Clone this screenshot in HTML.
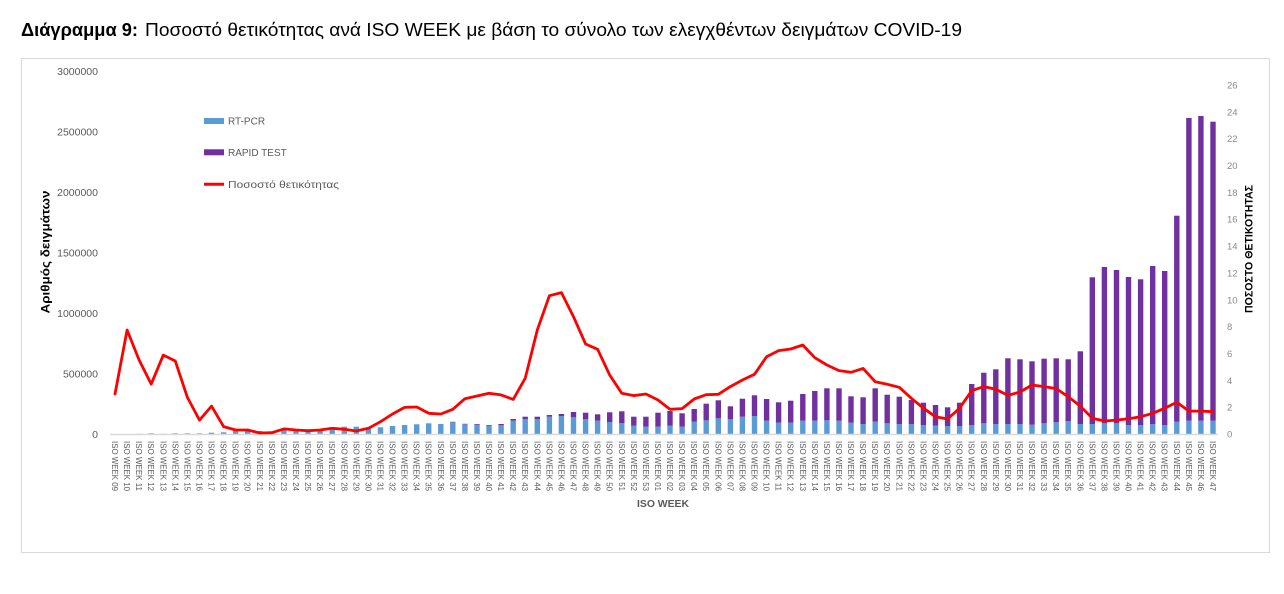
<!DOCTYPE html>
<html><head><meta charset="utf-8"><style>
html,body{margin:0;padding:0;background:#fff;}
svg{display:block;font-family:"Liberation Sans",sans-serif;}
.xl{font-size:8.5px;fill:#595959;}
.yl{font-size:10.5px;fill:#595959;}
.yr{font-size:9.5px;fill:#8a8a8a;}
.lg{font-size:10px;fill:#595959;}
.b{fill:#5B9BD5;}
.p{fill:#7030A0;}
</style></head><body>
<svg width="1284" height="594" viewBox="0 0 1284 594" xmlns="http://www.w3.org/2000/svg">
<rect x="0" y="0" width="1284" height="594" fill="#fff"/>
<text x="21" y="36" font-size="18" font-weight="bold" fill="#000" textLength="117" lengthAdjust="spacingAndGlyphs">Διάγραμμα 9:</text>
<text x="145" y="36" font-size="18" fill="#000" textLength="817" lengthAdjust="spacingAndGlyphs">Ποσοστό θετικότητας ανά ISO WEEK με βάση το σύνολο των ελεγχθέντων δειγμάτων COVID-19</text>
<rect x="21.5" y="58.5" width="1248" height="494" fill="none" stroke="#d9d9d9" stroke-width="1"/>

<!-- left axis labels -->
<g class="yl" text-anchor="end">
<text x="98" y="74.8">3000000</text>
<text x="98" y="135.4">2500000</text>
<text x="98" y="196">2000000</text>
<text x="98" y="256.5">1500000</text>
<text x="98" y="317.1">1000000</text>
<text x="98" y="377.7">500000</text>
<text x="98" y="438.1">0</text>
</g>
<!-- right axis labels -->
<g class="yr">
<text x="1227" y="437.6">0</text>
<text x="1227" y="410.7">2</text>
<text x="1227" y="383.9">4</text>
<text x="1227" y="357">6</text>
<text x="1227" y="330.2">8</text>
<text x="1227" y="303.3">10</text>
<text x="1227" y="276.4">12</text>
<text x="1227" y="249.6">14</text>
<text x="1227" y="222.7">16</text>
<text x="1227" y="195.9">18</text>
<text x="1227" y="169">20</text>
<text x="1227" y="142.1">22</text>
<text x="1227" y="115.3">24</text>
<text x="1227" y="88.4">26</text>
</g>
<text transform="translate(49.5,252) rotate(-90)" text-anchor="middle" font-size="12" font-weight="bold" fill="#000" textLength="123" lengthAdjust="spacingAndGlyphs">Αριθμός δειγμάτων</text>
<text transform="translate(1252.5,249) rotate(-90)" text-anchor="middle" font-size="11" font-weight="bold" fill="#000" textLength="128" lengthAdjust="spacingAndGlyphs">ΠΟΣΟΣΤΟ ΘΕΤΙΚΟΤΗΤΑΣ</text>
<text x="663" y="507" text-anchor="middle" font-size="10.5" font-weight="bold" fill="#595959" textLength="52" lengthAdjust="spacingAndGlyphs">ISO WEEK</text>

<!-- legend -->
<rect x="204" y="118" width="20" height="6" class="b"/>
<text x="228" y="124.5" class="lg">RT-PCR</text>
<rect x="204" y="149.3" width="20" height="6" class="p"/>
<text x="228" y="155.8" class="lg">RAPID TEST</text>
<line x1="204" y1="184.3" x2="224" y2="184.3" stroke="#ff0000" stroke-width="3"/>
<text x="228" y="188" class="lg" textLength="111" lengthAdjust="spacingAndGlyphs">Ποσοστό θετικότητας</text>

<!-- bars -->
<g>
<rect class="b" x="136.4" y="433.8" width="5.4" height="0.5"/>
<rect class="b" x="148.5" y="433.3" width="5.4" height="1"/>
<rect class="b" x="160.6" y="433.8" width="5.4" height="0.5"/>
<rect class="b" x="172.6" y="433.3" width="5.4" height="1"/>
<rect class="b" x="184.7" y="433.3" width="5.4" height="1"/>
<rect class="b" x="196.8" y="433.3" width="5.4" height="1"/>
<rect class="b" x="208.8" y="432.7" width="5.4" height="1.6"/>
<rect class="b" x="220.9" y="432.3" width="5.4" height="2"/>
<rect class="b" x="233.0" y="430" width="5.4" height="4.3"/>
<rect class="b" x="245.0" y="430" width="5.4" height="4.3"/>
<rect class="b" x="257.1" y="431" width="5.4" height="3.3"/>
<rect class="b" x="269.2" y="431.7" width="5.4" height="2.6"/>
<rect class="b" x="281.2" y="429" width="5.4" height="5.3"/>
<rect class="b" x="293.3" y="430" width="5.4" height="4.3"/>
<rect class="b" x="305.4" y="430" width="5.4" height="4.3"/>
<rect class="b" x="317.4" y="429.3" width="5.4" height="5"/>
<rect class="b" x="329.5" y="429" width="5.4" height="5.3"/>
<rect class="b" x="341.6" y="426.7" width="5.4" height="7.6"/>
<rect class="b" x="353.6" y="426.7" width="5.4" height="7.6"/>
<rect class="b" x="365.7" y="428.3" width="5.4" height="6"/>
<rect class="b" x="377.8" y="427.3" width="5.4" height="7"/>
<rect class="b" x="389.8" y="426" width="5.4" height="8.3"/>
<rect class="b" x="401.9" y="425" width="5.4" height="9.3"/>
<rect class="b" x="414.0" y="424.3" width="5.4" height="10"/>
<rect class="b" x="426.0" y="423.3" width="5.4" height="11"/>
<rect class="b" x="438.1" y="424" width="5.4" height="10.3"/>
<rect class="b" x="450.1" y="422.3" width="5.4" height="12"/><rect class="p" x="450.1" y="421.8" width="5.4" height="0.5"/>
<rect class="b" x="462.2" y="424.3" width="5.4" height="10"/><rect class="p" x="462.2" y="423.8" width="5.4" height="0.5"/>
<rect class="b" x="474.3" y="424.7" width="5.4" height="9.6"/><rect class="p" x="474.3" y="424" width="5.4" height="0.7"/>
<rect class="b" x="486.3" y="425.7" width="5.4" height="8.6"/><rect class="p" x="486.3" y="425" width="5.4" height="0.7"/>
<rect class="b" x="498.4" y="425.3" width="5.4" height="9"/><rect class="p" x="498.4" y="424" width="5.4" height="1.3"/>
<rect class="b" x="510.5" y="420.7" width="5.4" height="13.6"/><rect class="p" x="510.5" y="419" width="5.4" height="1.7"/>
<rect class="b" x="522.5" y="419" width="5.4" height="15.3"/><rect class="p" x="522.5" y="416.7" width="5.4" height="2.3"/>
<rect class="b" x="534.6" y="419.3" width="5.4" height="15"/><rect class="p" x="534.6" y="416.7" width="5.4" height="2.6"/>
<rect class="b" x="546.7" y="416.7" width="5.4" height="17.6"/><rect class="p" x="546.7" y="415" width="5.4" height="1.7"/>
<rect class="b" x="558.7" y="416" width="5.4" height="18.3"/><rect class="p" x="558.7" y="414" width="5.4" height="2"/>
<rect class="b" x="570.8" y="417.3" width="5.4" height="17"/><rect class="p" x="570.8" y="412" width="5.4" height="5.3"/>
<rect class="b" x="582.9" y="419.3" width="5.4" height="15"/><rect class="p" x="582.9" y="412.7" width="5.4" height="6.6"/>
<rect class="b" x="594.9" y="420.7" width="5.4" height="13.6"/><rect class="p" x="594.9" y="414.3" width="5.4" height="6.4"/>
<rect class="b" x="607.0" y="422" width="5.4" height="12.3"/><rect class="p" x="607.0" y="412.3" width="5.4" height="9.7"/>
<rect class="b" x="619.1" y="423" width="5.4" height="11.3"/><rect class="p" x="619.1" y="411.3" width="5.4" height="11.7"/>
<rect class="b" x="631.1" y="425.7" width="5.4" height="8.6"/><rect class="p" x="631.1" y="416.7" width="5.4" height="9"/>
<rect class="b" x="643.2" y="426.7" width="5.4" height="7.6"/><rect class="p" x="643.2" y="416.7" width="5.4" height="10"/>
<rect class="b" x="655.3" y="426.7" width="5.4" height="7.6"/><rect class="p" x="655.3" y="412.7" width="5.4" height="14"/>
<rect class="b" x="667.3" y="425.7" width="5.4" height="8.6"/><rect class="p" x="667.3" y="411" width="5.4" height="14.7"/>
<rect class="b" x="679.4" y="426.7" width="5.4" height="7.6"/><rect class="p" x="679.4" y="413.3" width="5.4" height="13.4"/>
<rect class="b" x="691.5" y="421.7" width="5.4" height="12.6"/><rect class="p" x="691.5" y="409" width="5.4" height="12.7"/>
<rect class="b" x="703.5" y="420.3" width="5.4" height="14"/><rect class="p" x="703.5" y="403.7" width="5.4" height="16.6"/>
<rect class="b" x="715.6" y="418.3" width="5.4" height="16"/><rect class="p" x="715.6" y="400.3" width="5.4" height="18"/>
<rect class="b" x="727.7" y="419.3" width="5.4" height="15"/><rect class="p" x="727.7" y="406.3" width="5.4" height="13"/>
<rect class="b" x="739.7" y="416.7" width="5.4" height="17.6"/><rect class="p" x="739.7" y="398.7" width="5.4" height="18"/>
<rect class="b" x="751.8" y="416" width="5.4" height="18.3"/><rect class="p" x="751.8" y="395.3" width="5.4" height="20.7"/>
<rect class="b" x="763.9" y="420.7" width="5.4" height="13.6"/><rect class="p" x="763.9" y="399" width="5.4" height="21.7"/>
<rect class="b" x="775.9" y="422.7" width="5.4" height="11.6"/><rect class="p" x="775.9" y="402.3" width="5.4" height="20.4"/>
<rect class="b" x="788.0" y="422.7" width="5.4" height="11.6"/><rect class="p" x="788.0" y="400.7" width="5.4" height="22"/>
<rect class="b" x="800.1" y="420.7" width="5.4" height="13.6"/><rect class="p" x="800.1" y="394" width="5.4" height="26.7"/>
<rect class="b" x="812.1" y="420.7" width="5.4" height="13.6"/><rect class="p" x="812.1" y="391" width="5.4" height="29.7"/>
<rect class="b" x="824.2" y="420.3" width="5.4" height="14"/><rect class="p" x="824.2" y="388.3" width="5.4" height="32"/>
<rect class="b" x="836.3" y="420.7" width="5.4" height="13.6"/><rect class="p" x="836.3" y="388.3" width="5.4" height="32.4"/>
<rect class="b" x="848.3" y="422.7" width="5.4" height="11.6"/><rect class="p" x="848.3" y="396.3" width="5.4" height="26.4"/>
<rect class="b" x="860.4" y="424" width="5.4" height="10.3"/><rect class="p" x="860.4" y="397.3" width="5.4" height="26.7"/>
<rect class="b" x="872.5" y="421.7" width="5.4" height="12.6"/><rect class="p" x="872.5" y="388.3" width="5.4" height="33.4"/>
<rect class="b" x="884.5" y="423.3" width="5.4" height="11"/><rect class="p" x="884.5" y="394.7" width="5.4" height="28.6"/>
<rect class="b" x="896.6" y="424" width="5.4" height="10.3"/><rect class="p" x="896.6" y="396.7" width="5.4" height="27.3"/>
<rect class="b" x="908.7" y="424" width="5.4" height="10.3"/><rect class="p" x="908.7" y="400" width="5.4" height="24"/>
<rect class="b" x="920.7" y="425" width="5.4" height="9.3"/><rect class="p" x="920.7" y="402.7" width="5.4" height="22.3"/>
<rect class="b" x="932.8" y="425.7" width="5.4" height="8.6"/><rect class="p" x="932.8" y="405" width="5.4" height="20.7"/>
<rect class="b" x="944.9" y="426" width="5.4" height="8.3"/><rect class="p" x="944.9" y="407.3" width="5.4" height="18.7"/>
<rect class="b" x="956.9" y="426" width="5.4" height="8.3"/><rect class="p" x="956.9" y="402.7" width="5.4" height="23.3"/>
<rect class="b" x="969.0" y="425" width="5.4" height="9.3"/><rect class="p" x="969.0" y="384" width="5.4" height="41"/>
<rect class="b" x="981.1" y="423.3" width="5.4" height="11"/><rect class="p" x="981.1" y="372.7" width="5.4" height="50.6"/>
<rect class="b" x="993.1" y="424" width="5.4" height="10.3"/><rect class="p" x="993.1" y="369.3" width="5.4" height="54.7"/>
<rect class="b" x="1005.2" y="424" width="5.4" height="10.3"/><rect class="p" x="1005.2" y="358.3" width="5.4" height="65.7"/>
<rect class="b" x="1017.3" y="424" width="5.4" height="10.3"/><rect class="p" x="1017.3" y="359.3" width="5.4" height="64.7"/>
<rect class="b" x="1029.3" y="424.7" width="5.4" height="9.6"/><rect class="p" x="1029.3" y="361.3" width="5.4" height="63.4"/>
<rect class="b" x="1041.4" y="423.3" width="5.4" height="11"/><rect class="p" x="1041.4" y="358.7" width="5.4" height="64.6"/>
<rect class="b" x="1053.5" y="422.3" width="5.4" height="12"/><rect class="p" x="1053.5" y="358.3" width="5.4" height="64"/>
<rect class="b" x="1065.5" y="421" width="5.4" height="13.3"/><rect class="p" x="1065.5" y="359.3" width="5.4" height="61.7"/>
<rect class="b" x="1077.6" y="424" width="5.4" height="10.3"/><rect class="p" x="1077.6" y="351.3" width="5.4" height="72.7"/>
<rect class="b" x="1089.6" y="424" width="5.4" height="10.3"/><rect class="p" x="1089.6" y="277.3" width="5.4" height="146.7"/>
<rect class="b" x="1101.7" y="423.3" width="5.4" height="11"/><rect class="p" x="1101.7" y="267" width="5.4" height="156.3"/>
<rect class="b" x="1113.8" y="423.3" width="5.4" height="11"/><rect class="p" x="1113.8" y="270" width="5.4" height="153.3"/>
<rect class="b" x="1125.8" y="425" width="5.4" height="9.3"/><rect class="p" x="1125.8" y="277" width="5.4" height="148"/>
<rect class="b" x="1137.9" y="425" width="5.4" height="9.3"/><rect class="p" x="1137.9" y="279.3" width="5.4" height="145.7"/>
<rect class="b" x="1150.0" y="424" width="5.4" height="10.3"/><rect class="p" x="1150.0" y="266" width="5.4" height="158"/>
<rect class="b" x="1162.0" y="425" width="5.4" height="9.3"/><rect class="p" x="1162.0" y="271" width="5.4" height="154"/>
<rect class="b" x="1174.1" y="421.7" width="5.4" height="12.6"/><rect class="p" x="1174.1" y="215.7" width="5.4" height="206"/>
<rect class="b" x="1186.2" y="420.7" width="5.4" height="13.6"/><rect class="p" x="1186.2" y="118" width="5.4" height="302.7"/>
<rect class="b" x="1198.2" y="420.7" width="5.4" height="13.6"/><rect class="p" x="1198.2" y="116" width="5.4" height="304.7"/>
<rect class="b" x="1210.3" y="420.7" width="5.4" height="13.6"/><rect class="p" x="1210.3" y="121.7" width="5.4" height="299"/>
</g>

<line x1="110" y1="434.5" x2="1218" y2="434.5" stroke="#d9d9d9" stroke-width="1.5"/>

<!-- positivity line -->
<polyline fill="none" stroke="#ff0000" stroke-width="2.8" stroke-linejoin="round" stroke-linecap="round" points="115.0,394.0 127.1,330.0 139.1,360.0 151.2,384.1 163.3,355.1 175.3,361.0 187.4,397.4 199.5,420.1 211.5,406.1 223.6,426.6 235.7,430.0 247.7,430.0 259.8,433.0 271.9,432.7 283.9,428.9 296.0,430.0 308.1,430.7 320.1,430.0 332.2,428.3 344.3,429.3 356.3,431.0 368.4,428.3 380.5,421.7 392.5,414.0 404.6,407.4 416.7,407.0 428.7,413.3 440.8,414.0 452.8,409.3 464.9,398.7 477.0,396.0 489.0,393.3 501.1,394.9 513.2,399.4 525.2,378.3 537.3,330.0 549.4,295.7 561.4,292.6 573.5,316.7 585.6,344.0 597.6,349.3 609.7,375.0 621.8,393.3 633.8,395.6 645.9,394.0 658.0,400.0 670.0,409.3 682.1,408.6 694.2,399.0 706.2,394.7 718.3,394.3 730.4,386.6 742.4,380.0 754.5,374.3 766.6,356.7 778.6,350.6 790.7,349.0 802.8,345.0 814.8,357.7 826.9,365.0 839.0,370.6 851.0,372.3 863.1,368.4 875.2,381.7 887.2,384.3 899.3,387.3 911.4,398.3 923.4,408.2 935.5,416.7 947.6,419.0 959.6,408.2 971.7,390.7 983.8,386.6 995.8,389.3 1007.9,395.4 1020.0,392.0 1032.0,385.0 1044.1,386.6 1056.2,388.6 1068.2,396.7 1080.3,406.1 1092.3,418.3 1104.4,421.0 1116.5,420.1 1128.5,418.7 1140.6,416.7 1152.7,413.3 1164.7,408.2 1176.8,402.3 1188.9,411.1 1200.9,411.1 1213.0,411.7"/>

<!-- x tick labels -->
<g class="xl">
<text transform="translate(112,441) rotate(90)" textLength="50" lengthAdjust="spacingAndGlyphs">ISO WEEK 09</text>
<text transform="translate(124.1,441) rotate(90)" textLength="50" lengthAdjust="spacingAndGlyphs">ISO WEEK 10</text>
<text transform="translate(136.1,441) rotate(90)" textLength="50" lengthAdjust="spacingAndGlyphs">ISO WEEK 11</text>
<text transform="translate(148.2,441) rotate(90)" textLength="50" lengthAdjust="spacingAndGlyphs">ISO WEEK 12</text>
<text transform="translate(160.3,441) rotate(90)" textLength="50" lengthAdjust="spacingAndGlyphs">ISO WEEK 13</text>
<text transform="translate(172.3,441) rotate(90)" textLength="50" lengthAdjust="spacingAndGlyphs">ISO WEEK 14</text>
<text transform="translate(184.4,441) rotate(90)" textLength="50" lengthAdjust="spacingAndGlyphs">ISO WEEK 15</text>
<text transform="translate(196.5,441) rotate(90)" textLength="50" lengthAdjust="spacingAndGlyphs">ISO WEEK 16</text>
<text transform="translate(208.5,441) rotate(90)" textLength="50" lengthAdjust="spacingAndGlyphs">ISO WEEK 17</text>
<text transform="translate(220.6,441) rotate(90)" textLength="50" lengthAdjust="spacingAndGlyphs">ISO WEEK 18</text>
<text transform="translate(232.7,441) rotate(90)" textLength="50" lengthAdjust="spacingAndGlyphs">ISO WEEK 19</text>
<text transform="translate(244.7,441) rotate(90)" textLength="50" lengthAdjust="spacingAndGlyphs">ISO WEEK 20</text>
<text transform="translate(256.8,441) rotate(90)" textLength="50" lengthAdjust="spacingAndGlyphs">ISO WEEK 21</text>
<text transform="translate(268.9,441) rotate(90)" textLength="50" lengthAdjust="spacingAndGlyphs">ISO WEEK 22</text>
<text transform="translate(280.9,441) rotate(90)" textLength="50" lengthAdjust="spacingAndGlyphs">ISO WEEK 23</text>
<text transform="translate(293.0,441) rotate(90)" textLength="50" lengthAdjust="spacingAndGlyphs">ISO WEEK 24</text>
<text transform="translate(305.1,441) rotate(90)" textLength="50" lengthAdjust="spacingAndGlyphs">ISO WEEK 25</text>
<text transform="translate(317.1,441) rotate(90)" textLength="50" lengthAdjust="spacingAndGlyphs">ISO WEEK 26</text>
<text transform="translate(329.2,441) rotate(90)" textLength="50" lengthAdjust="spacingAndGlyphs">ISO WEEK 27</text>
<text transform="translate(341.3,441) rotate(90)" textLength="50" lengthAdjust="spacingAndGlyphs">ISO WEEK 28</text>
<text transform="translate(353.3,441) rotate(90)" textLength="50" lengthAdjust="spacingAndGlyphs">ISO WEEK 29</text>
<text transform="translate(365.4,441) rotate(90)" textLength="50" lengthAdjust="spacingAndGlyphs">ISO WEEK 30</text>
<text transform="translate(377.5,441) rotate(90)" textLength="50" lengthAdjust="spacingAndGlyphs">ISO WEEK 31</text>
<text transform="translate(389.5,441) rotate(90)" textLength="50" lengthAdjust="spacingAndGlyphs">ISO WEEK 32</text>
<text transform="translate(401.6,441) rotate(90)" textLength="50" lengthAdjust="spacingAndGlyphs">ISO WEEK 33</text>
<text transform="translate(413.7,441) rotate(90)" textLength="50" lengthAdjust="spacingAndGlyphs">ISO WEEK 34</text>
<text transform="translate(425.7,441) rotate(90)" textLength="50" lengthAdjust="spacingAndGlyphs">ISO WEEK 35</text>
<text transform="translate(437.8,441) rotate(90)" textLength="50" lengthAdjust="spacingAndGlyphs">ISO WEEK 36</text>
<text transform="translate(449.8,441) rotate(90)" textLength="50" lengthAdjust="spacingAndGlyphs">ISO WEEK 37</text>
<text transform="translate(461.9,441) rotate(90)" textLength="50" lengthAdjust="spacingAndGlyphs">ISO WEEK 38</text>
<text transform="translate(474.0,441) rotate(90)" textLength="50" lengthAdjust="spacingAndGlyphs">ISO WEEK 39</text>
<text transform="translate(486.0,441) rotate(90)" textLength="50" lengthAdjust="spacingAndGlyphs">ISO WEEK 40</text>
<text transform="translate(498.1,441) rotate(90)" textLength="50" lengthAdjust="spacingAndGlyphs">ISO WEEK 41</text>
<text transform="translate(510.2,441) rotate(90)" textLength="50" lengthAdjust="spacingAndGlyphs">ISO WEEK 42</text>
<text transform="translate(522.2,441) rotate(90)" textLength="50" lengthAdjust="spacingAndGlyphs">ISO WEEK 43</text>
<text transform="translate(534.3,441) rotate(90)" textLength="50" lengthAdjust="spacingAndGlyphs">ISO WEEK 44</text>
<text transform="translate(546.4,441) rotate(90)" textLength="50" lengthAdjust="spacingAndGlyphs">ISO WEEK 45</text>
<text transform="translate(558.4,441) rotate(90)" textLength="50" lengthAdjust="spacingAndGlyphs">ISO WEEK 46</text>
<text transform="translate(570.5,441) rotate(90)" textLength="50" lengthAdjust="spacingAndGlyphs">ISO WEEK 47</text>
<text transform="translate(582.6,441) rotate(90)" textLength="50" lengthAdjust="spacingAndGlyphs">ISO WEEK 48</text>
<text transform="translate(594.6,441) rotate(90)" textLength="50" lengthAdjust="spacingAndGlyphs">ISO WEEK 49</text>
<text transform="translate(606.7,441) rotate(90)" textLength="50" lengthAdjust="spacingAndGlyphs">ISO WEEK 50</text>
<text transform="translate(618.8,441) rotate(90)" textLength="50" lengthAdjust="spacingAndGlyphs">ISO WEEK 51</text>
<text transform="translate(630.8,441) rotate(90)" textLength="50" lengthAdjust="spacingAndGlyphs">ISO WEEK 52</text>
<text transform="translate(642.9,441) rotate(90)" textLength="50" lengthAdjust="spacingAndGlyphs">ISO WEEK 53</text>
<text transform="translate(655.0,441) rotate(90)" textLength="50" lengthAdjust="spacingAndGlyphs">ISO WEEK 01</text>
<text transform="translate(667.0,441) rotate(90)" textLength="50" lengthAdjust="spacingAndGlyphs">ISO WEEK 02</text>
<text transform="translate(679.1,441) rotate(90)" textLength="50" lengthAdjust="spacingAndGlyphs">ISO WEEK 03</text>
<text transform="translate(691.2,441) rotate(90)" textLength="50" lengthAdjust="spacingAndGlyphs">ISO WEEK 04</text>
<text transform="translate(703.2,441) rotate(90)" textLength="50" lengthAdjust="spacingAndGlyphs">ISO WEEK 05</text>
<text transform="translate(715.3,441) rotate(90)" textLength="50" lengthAdjust="spacingAndGlyphs">ISO WEEK 06</text>
<text transform="translate(727.4,441) rotate(90)" textLength="50" lengthAdjust="spacingAndGlyphs">ISO WEEK 07</text>
<text transform="translate(739.4,441) rotate(90)" textLength="50" lengthAdjust="spacingAndGlyphs">ISO WEEK 08</text>
<text transform="translate(751.5,441) rotate(90)" textLength="50" lengthAdjust="spacingAndGlyphs">ISO WEEK 09</text>
<text transform="translate(763.6,441) rotate(90)" textLength="50" lengthAdjust="spacingAndGlyphs">ISO WEEK 10</text>
<text transform="translate(775.6,441) rotate(90)" textLength="50" lengthAdjust="spacingAndGlyphs">ISO WEEK 11</text>
<text transform="translate(787.7,441) rotate(90)" textLength="50" lengthAdjust="spacingAndGlyphs">ISO WEEK 12</text>
<text transform="translate(799.8,441) rotate(90)" textLength="50" lengthAdjust="spacingAndGlyphs">ISO WEEK 13</text>
<text transform="translate(811.8,441) rotate(90)" textLength="50" lengthAdjust="spacingAndGlyphs">ISO WEEK 14</text>
<text transform="translate(823.9,441) rotate(90)" textLength="50" lengthAdjust="spacingAndGlyphs">ISO WEEK 15</text>
<text transform="translate(836.0,441) rotate(90)" textLength="50" lengthAdjust="spacingAndGlyphs">ISO WEEK 16</text>
<text transform="translate(848.0,441) rotate(90)" textLength="50" lengthAdjust="spacingAndGlyphs">ISO WEEK 17</text>
<text transform="translate(860.1,441) rotate(90)" textLength="50" lengthAdjust="spacingAndGlyphs">ISO WEEK 18</text>
<text transform="translate(872.2,441) rotate(90)" textLength="50" lengthAdjust="spacingAndGlyphs">ISO WEEK 19</text>
<text transform="translate(884.2,441) rotate(90)" textLength="50" lengthAdjust="spacingAndGlyphs">ISO WEEK 20</text>
<text transform="translate(896.3,441) rotate(90)" textLength="50" lengthAdjust="spacingAndGlyphs">ISO WEEK 21</text>
<text transform="translate(908.4,441) rotate(90)" textLength="50" lengthAdjust="spacingAndGlyphs">ISO WEEK 22</text>
<text transform="translate(920.4,441) rotate(90)" textLength="50" lengthAdjust="spacingAndGlyphs">ISO WEEK 23</text>
<text transform="translate(932.5,441) rotate(90)" textLength="50" lengthAdjust="spacingAndGlyphs">ISO WEEK 24</text>
<text transform="translate(944.6,441) rotate(90)" textLength="50" lengthAdjust="spacingAndGlyphs">ISO WEEK 25</text>
<text transform="translate(956.6,441) rotate(90)" textLength="50" lengthAdjust="spacingAndGlyphs">ISO WEEK 26</text>
<text transform="translate(968.7,441) rotate(90)" textLength="50" lengthAdjust="spacingAndGlyphs">ISO WEEK 27</text>
<text transform="translate(980.8,441) rotate(90)" textLength="50" lengthAdjust="spacingAndGlyphs">ISO WEEK 28</text>
<text transform="translate(992.8,441) rotate(90)" textLength="50" lengthAdjust="spacingAndGlyphs">ISO WEEK 29</text>
<text transform="translate(1004.9,441) rotate(90)" textLength="50" lengthAdjust="spacingAndGlyphs">ISO WEEK 30</text>
<text transform="translate(1017.0,441) rotate(90)" textLength="50" lengthAdjust="spacingAndGlyphs">ISO WEEK 31</text>
<text transform="translate(1029.0,441) rotate(90)" textLength="50" lengthAdjust="spacingAndGlyphs">ISO WEEK 32</text>
<text transform="translate(1041.1,441) rotate(90)" textLength="50" lengthAdjust="spacingAndGlyphs">ISO WEEK 33</text>
<text transform="translate(1053.2,441) rotate(90)" textLength="50" lengthAdjust="spacingAndGlyphs">ISO WEEK 34</text>
<text transform="translate(1065.2,441) rotate(90)" textLength="50" lengthAdjust="spacingAndGlyphs">ISO WEEK 35</text>
<text transform="translate(1077.3,441) rotate(90)" textLength="50" lengthAdjust="spacingAndGlyphs">ISO WEEK 36</text>
<text transform="translate(1089.3,441) rotate(90)" textLength="50" lengthAdjust="spacingAndGlyphs">ISO WEEK 37</text>
<text transform="translate(1101.4,441) rotate(90)" textLength="50" lengthAdjust="spacingAndGlyphs">ISO WEEK 38</text>
<text transform="translate(1113.5,441) rotate(90)" textLength="50" lengthAdjust="spacingAndGlyphs">ISO WEEK 39</text>
<text transform="translate(1125.5,441) rotate(90)" textLength="50" lengthAdjust="spacingAndGlyphs">ISO WEEK 40</text>
<text transform="translate(1137.6,441) rotate(90)" textLength="50" lengthAdjust="spacingAndGlyphs">ISO WEEK 41</text>
<text transform="translate(1149.7,441) rotate(90)" textLength="50" lengthAdjust="spacingAndGlyphs">ISO WEEK 42</text>
<text transform="translate(1161.7,441) rotate(90)" textLength="50" lengthAdjust="spacingAndGlyphs">ISO WEEK 43</text>
<text transform="translate(1173.8,441) rotate(90)" textLength="50" lengthAdjust="spacingAndGlyphs">ISO WEEK 44</text>
<text transform="translate(1185.9,441) rotate(90)" textLength="50" lengthAdjust="spacingAndGlyphs">ISO WEEK 45</text>
<text transform="translate(1197.9,441) rotate(90)" textLength="50" lengthAdjust="spacingAndGlyphs">ISO WEEK 46</text>
<text transform="translate(1210.0,441) rotate(90)" textLength="50" lengthAdjust="spacingAndGlyphs">ISO WEEK 47</text>
</g>
</svg>
</body></html>
